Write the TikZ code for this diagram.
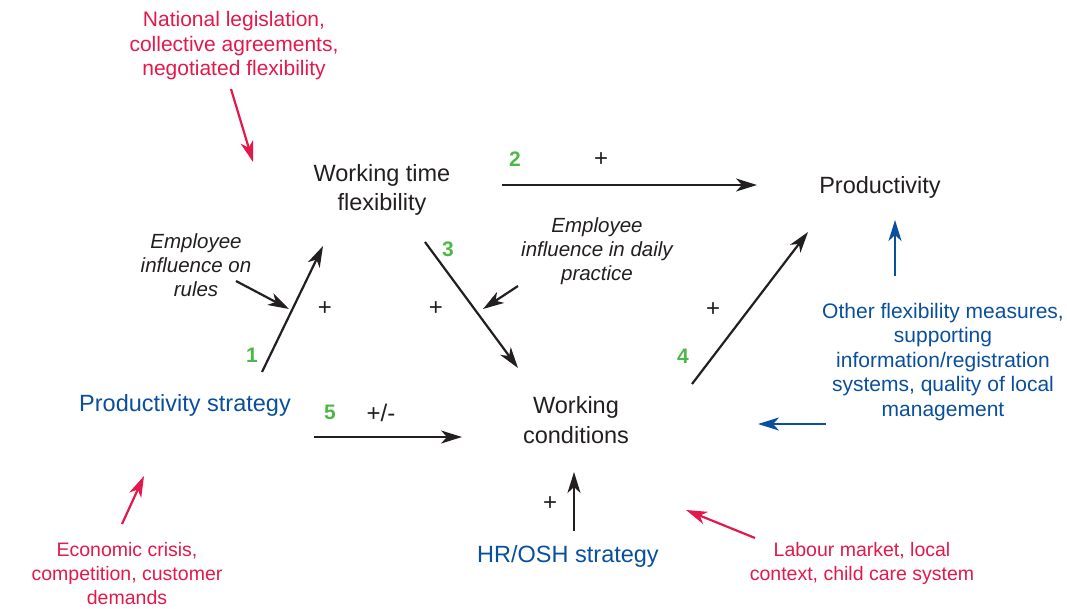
\documentclass[tikz,border=0pt]{standalone}
\usepackage{fontspec}
\setmainfont{Liberation Sans}
\usetikzlibrary{arrows.meta}
\definecolor{txtdark}{HTML}{231F20}
\definecolor{legred}{HTML}{E3194B}
\definecolor{stratblue}{HTML}{0A4F9E}
\definecolor{numgreen}{HTML}{4DB848}
\tikzset{
  bigtext/.style={font=\fontsize{23.5}{29.5}\selectfont, text=txtdark, align=center},
  smalltext/.style={font=\fontsize{21}{24.5}\selectfont, align=center},
  lowtext/.style={font=\fontsize{19.5}{24}\selectfont, align=center},
  infltext/.style={font=\fontsize{20.5}{24}\selectfont\itshape, text=txtdark, align=center},
  numtext/.style={font=\fontsize{21}{24}\selectfont\bfseries, text=numgreen},
  signtext/.style={font=\fontsize{24}{24}\selectfont, text=txtdark},
  arr/.style={-{Stealth[length=21pt, width=13pt, inset=6pt]}, line width=2.2pt, color=txtdark}
}
\begin{document}
\begin{tikzpicture}[x=1pt, y=-1pt]
			%%%%% START %%%%%
			\useasboundingbox (0, 0) rectangle (1067, 608);
			
			\node[bigtext] (wtf) at (382, 190) {Working time\\flexibility};
			\node[bigtext] (prod) at (880, 187) {Productivity};
			\node[bigtext] (wc) at (576, 420) {Working\\conditions};
			\node[bigtext, text=stratblue] (ps) at (185, 405) {Productivity strategy};
			\node[bigtext, text=stratblue] (hr) at (568, 556) {HR/OSH strategy};
			
			\node[smalltext, text=legred] (legis) at (234, 46) {National legislation,\\collective agreements,\\negotiated flexibility};
			\node[lowtext, text=legred] (crisis) at (127, 574) {Economic crisis,\\competition, customer\\demands};
			\node[lowtext, text=legred] (labour) at (862, 563) {Labour market, local\\context, child care system};
			\node[smalltext, text=stratblue] (other) at (943, 362) {Other flexibility measures,\\supporting\\information/registration\\systems, quality of local\\management};
			
			\node[infltext] (infrules) at (196, 265) {Employee\\influence on\\rules};
			\node[infltext] (infdaily) at (597, 251) {Employee\\influence in daily\\practice};
			
			\node[numtext] (n1) at (252, 355) {1};
			\node[numtext] (n2) at (515, 159) {2};
			\node[numtext] (n3) at (448, 249) {3};
			\node[numtext] (n4) at (683, 356) {4};
			\node[numtext] (n5) at (330, 412) {5};
			
			\node[signtext] (s1) at (325, 309) {+};
			\node[signtext] (s2) at (601, 160) {+};
			\node[signtext] (s3) at (436, 309) {+};
			\node[signtext] (s4) at (713, 310) {+};
			\node[signtext] (s5) at (381, 413) {+/-};
			\node[signtext] (shr) at (550, 504) {+};
			
			% arrow ends
			\coordinate (a1s) at (262, 372);
			\coordinate (a1e) at (323, 246);
			\coordinate (a2s) at (502, 185);
			\coordinate (a2e) at (757, 185);
			\coordinate (a3s) at (425, 242);
			\coordinate (a3e) at (518, 368);
			\coordinate (a4s) at (692, 384);
			\coordinate (a4e) at (808, 232);
			\coordinate (a5s) at (314, 437);
			\coordinate (a5e) at (462, 437);
			\coordinate (hrs) at (574, 531);
			\coordinate (hre) at (574, 472);
			\coordinate (rules) at (289, 309);
			\coordinate (daily) at (483, 309);
			\coordinate (legs) at (231, 89);
			\coordinate (lege) at (253, 162);
			\coordinate (crs) at (122, 524);
			\coordinate (cre) at (144, 476);
			\coordinate (labs) at (755, 538);
			\coordinate (labe) at (686, 510);
			\coordinate (oths) at (826, 424);
			\coordinate (othe) at (758, 424);
			\coordinate (prs) at (895, 276);
			\coordinate (pre) at (895, 220);
			
			\draw[arr] (a1s) -- (a1e);
			\draw[arr] (a2s) -- (a2e);
			\draw[arr] (a3s) -- (a3e);
			\draw[arr] (a4s) -- (a4e);
			\draw[arr] (a5s) -- (a5e);
			\draw[arr] (hrs) -- (hre);
			
			\draw[arr] (236, 281) -- (rules);
			\draw[arr] (518, 286) -- (daily);
			
			\draw[arr, color=legred] (legs) -- (lege);
			\draw[arr, color=legred] (crs) -- (cre);
			\draw[arr, color=legred] (labs) -- (labe);
			\draw[arr, color=stratblue] (oths) -- (othe);
			\draw[arr, color=stratblue] (prs) -- (pre);
			
			%%%%% END %%%%%
\end{tikzpicture}
\end{document}
